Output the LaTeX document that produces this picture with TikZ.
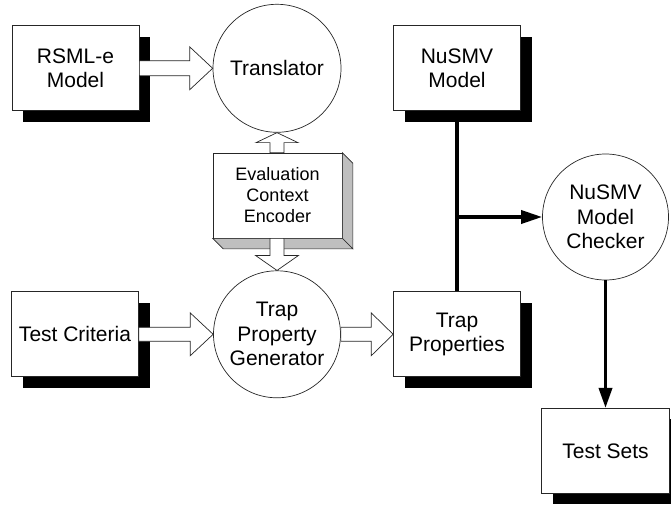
\documentclass[tikz,border=0pt]{standalone}
\usepackage{fontspec}
\setmainfont{Liberation Sans}
\usetikzlibrary{calc,shadows,arrows.meta}
\tikzset{
  boxnode/.style={draw=black!85, line width=0.7pt, fill=white, minimum width=127pt, minimum height=85pt, inner sep=0pt, align=center,
    font=\fontsize{21}{24.5}\selectfont,
    drop shadow={shadow xshift=11pt, shadow yshift=-11pt, fill=black, opacity=1}},
  procnode/.style={draw=black!85, line width=0.7pt, fill=white, circle, inner sep=0pt, align=center,
    font=\fontsize{21}{24.5}\selectfont},
  blockarr/.style={draw=black!85, line width=0.7pt, fill=white, line join=miter},
  thickconn/.style={line width=3.5pt, draw=black},
  faceside/.style={draw=black!85, line width=0.7pt, fill=black!25, line join=miter},
}
\newcommand\blockarrow[5]{%
  \coordinate (H) at ($(#2)!#5!(#1)$);
  \draw[blockarr] ($(#1)!#3!90:(#2)$) -- ($(H)!#3!90:(#2)$) -- ($(H)!#4!90:(#2)$) -- (#2)
    -- ($(H)!#4!-90:(#2)$) -- ($(H)!#3!-90:(#2)$) -- ($(#1)!#3!-90:(#2)$) -- cycle;
}
\begin{document}
\begin{tikzpicture}[x=1pt,y=-1pt]
\useasboundingbox (0,0) rectangle (671,505);
% nodes
\node[boxnode] (rsml) at (75.5,68.3) {RSML-e\\Model};
\node[procnode, minimum size=128pt] (trans) at (277,68.3) {Translator};
\node[boxnode] (nmodel) at (457,68.3) {NuSMV\\Model};
\node[boxnode] (crit) at (75,334.3) {Test Criteria};
\node[procnode, minimum size=127pt] (tpg) at (277,334.3) {Trap\\Property\\Generator};
\node[boxnode] (tprop) at (457,334.3) {Trap\\Properties};
\node[procnode, minimum size=126pt] (check) at (605.5,217) {NuSMV\\Model\\Checker};
\node[boxnode, minimum width=128pt] (tsets) at (605.5,450.8) {Test Sets};
% 3D box
\node[draw=black!85, line width=0.7pt, fill=white, minimum width=129pt, minimum height=85pt, inner sep=0pt, align=center,
  font=\fontsize{18}{21}\selectfont] (ece) at (277.5,195.5) {Evaluation\\Context\\Encoder};
\draw[faceside] (ece.north east) -- ++(10.5,10.5) -- ($(ece.south east)+(10.5,10.5)$) -- (ece.south east) -- cycle;
\draw[faceside] (ece.south west) -- ($(ece.south west)+(10.5,10.5)$) -- ($(ece.south east)+(10.5,10.5)$) -- (ece.south east) -- cycle;
% block arrows
\blockarrow{rsml.east}{trans.west}{7.5pt}{21.5pt}{23pt}
\blockarrow{crit.east}{tpg.west}{7pt}{21.5pt}{23pt}
\blockarrow{tpg.east}{tprop.west}{7pt}{21.5pt}{22pt}
\coordinate (eceup) at (ece.north -| trans.south);
\blockarrow{eceup}{trans.south}{7pt}{21pt}{10pt}
\coordinate (ecedn) at (ece.south -| tpg.north);
\blockarrow{ecedn}{tpg.north}{7pt}{21.5pt}{15pt}
% thick connectors
\draw[thickconn] (nmodel.south) -- (tprop.north);
\coordinate (junc) at (nmodel.south |- check.west);
\draw[thickconn, -{Triangle[length=21pt,width=13pt]}] (junc) -- (check.west);
\draw[thickconn, -{Triangle[length=20pt,width=13pt]}] (check.south) -- (tsets.north);
\end{tikzpicture}
\end{document}
